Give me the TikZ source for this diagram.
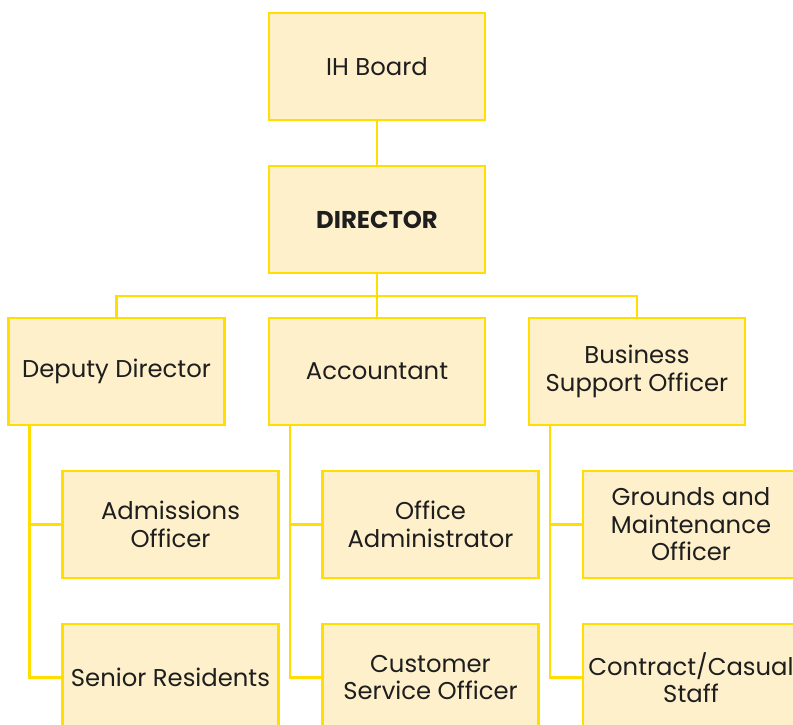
\documentclass[tikz,border=0pt]{standalone}
\usepackage{fontspec}
\setmainfont{Poppins}
\usepackage{tikz}
\usetikzlibrary{positioning,calc}
\definecolor{mygold}{RGB}{255,222,0}
\definecolor{mycream}{RGB}{255,240,204}
\definecolor{myink}{RGB}{30,30,30}

\begin{document}
\begin{tikzpicture}[
  x=1pt, y=1pt,
  myline/.style={draw=mygold, line width=2.5pt},
  mybox/.style={
    draw=mygold,
    line width=2.5pt,
    fill=mycream,
    rectangle,
    minimum width=216pt,
    minimum height=107pt,
    inner xsep=2pt,
    align=center,
    text=myink,
    font=\fontsize{24.3}{27.5}\selectfont
    }
]
\clip (0,0) rectangle (793,-725);

% connectors
\coordinate (bus) at (377,-296);
\draw [myline] (377,-120) -- (377,-166);
\draw [myline] (377,-273) -- (bus);
\draw [myline] (116.5,-318) |- (bus) -| (637,-318);
\draw [myline] (bus) -- (377,-318);

% boxes
\node [mybox] (board) at (377,-66.5) {IH Board};
\node [mybox] (director) at (377,-219.5) {\textbf{DIRECTOR}};

\node [mybox] (deputy) at (116.5,-371.5) {Deputy Director};
\node [mybox] (accountant) at (377,-371.5) {Accountant};
\node [mybox] (business) at (637,-371.5) {Business\\Support Officer};

\node [mybox] (admissions) at (170.5,-524.5) {Admissions\\Officer};
\node [mybox] (officeadmin) at (430.5,-524.5) {Office\\Administrator};
\node [mybox] (grounds) at (691,-524.5) {Grounds and\\Maintenance\\Officer};

\node [mybox] (seniors) at (170.5,-677.5) {Senior Residents};
\node [mybox] (customer) at (430.5,-677.5) {Customer\\Service Officer};
\node [mybox] (contract) at (691,-677.5) {Contract/Casual\\Staff};

% branches
\draw [myline] ([xshift=22pt]deputy.south west) |- (admissions.west);
\draw [myline] ([xshift=22pt]deputy.south west) |- (seniors.west);
\draw [myline] ([xshift=22pt]accountant.south west) |- (officeadmin.west);
\draw [myline] ([xshift=22pt]accountant.south west) |- (customer.west);
\draw [myline] ([xshift=22pt]business.south west) |- (grounds.west);
\draw [myline] ([xshift=22pt]business.south west) |- (contract.west);

\end{tikzpicture}
\end{document}
